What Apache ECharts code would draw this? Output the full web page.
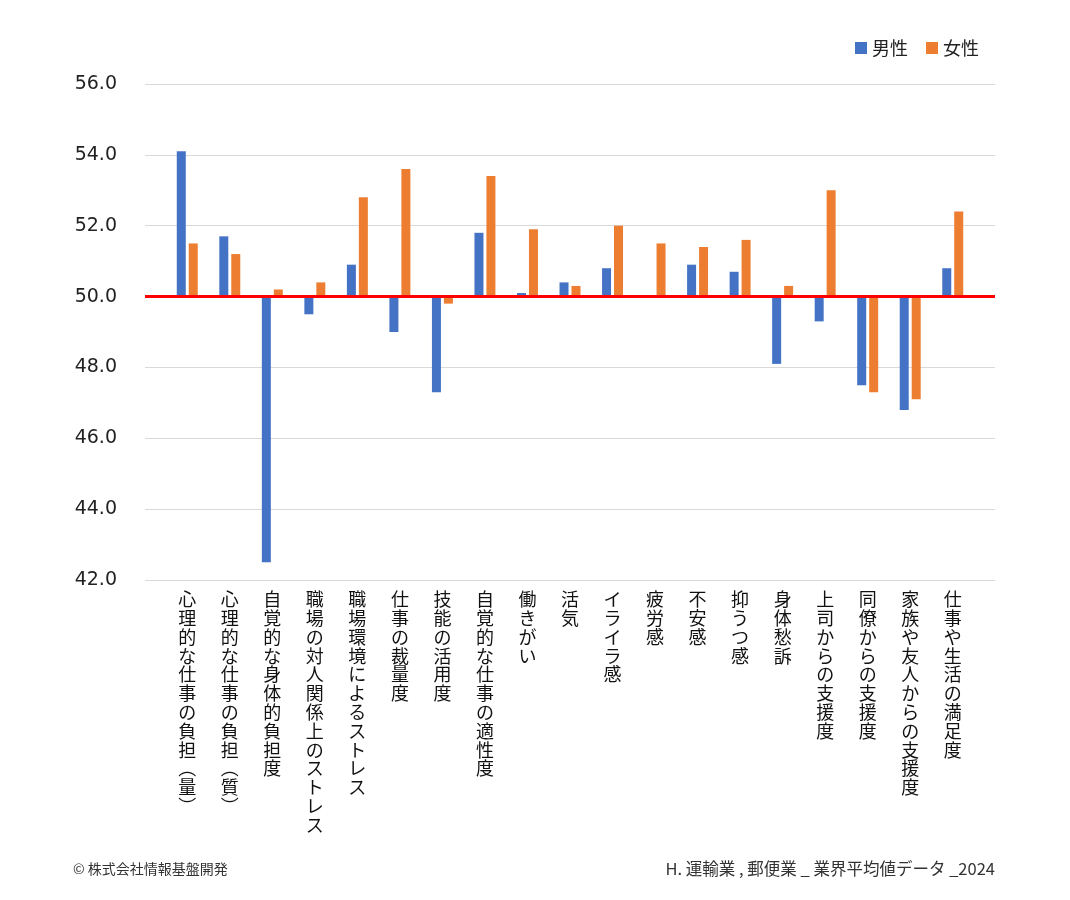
<!DOCTYPE html>
<html>
  <head>
    <meta charset="utf-8" />
    <title>業界平均値データ</title>
    <script src="https://cdn.jsdelivr.net/npm/echarts@6.0.0/dist/echarts.min.js"></script>
    <style>
      * {
        margin: 0;
        padding: 0;
        box-sizing: border-box;
      }
      body {
        background: #fff;
      }
    </style>
  </head>
  <body>
    <div id="main" style="width: 1070px; height: 900px"></div>
    <script type="text/javascript">
      var myChart = echarts.init(document.getElementById("main"));

      const categories = [
        "心理的な仕事の負担（量）",
        "心理的な仕事の負担（質）",
        "自覚的な身体的負担度",
        "職場の対人関係上のストレス",
        "職場環境によるストレス",
        "仕事の裁量度",
        "技能の活用度",
        "自覚的な仕事の適性度",
        "働きがい",
        "活気",
        "イライラ感",
        "疲労感",
        "不安感",
        "抑うつ感",
        "身体愁訴",
        "上司からの支援度",
        "同僚からの支援度",
        "家族や友人からの支援度",
        "仕事や生活の満足度",
      ];
      const maleValues = [
        54.1, 51.7, 42.5, 49.5, 50.9, 49.0, 47.3, 51.8, 50.1, 50.4, 50.8,
        50.0, 50.9, 50.7, 48.1, 49.3, 47.5, 46.8, 50.8,
      ];
      const femaleValues = [
        51.5, 51.2, 50.2, 50.4, 52.8, 53.6, 49.8, 53.4, 51.9, 50.3, 52.0,
        51.5, 51.4, 51.6, 50.3, 53.0, 47.3, 47.1, 52.4,
      ];
      const baseline = 50;
      const yMin = 42;
      const yMax = 56;
      const yStep = 2;

      // 縦書きラベル
      function verticalText(s) {
        return s
          .replace(/（/g, "︵")
          .replace(/）/g, "︶")
          .split("")
          .join("\n");
      }

      var jp = "'Noto Sans CJK JP', sans-serif";

      var option = {
        backgroundColor: "#ffffff",
        animation: false,
        legend: {
          data: ["男性", "女性"],
          right: 86,
          top: 34,
          icon: "rect",
          itemWidth: 12,
          itemHeight: 12,
          itemGap: 18,
          textStyle: { fontFamily: jp, fontSize: 18, color: "#222" },
        },
        grid: [
          // 目盛線用
          { left: 145, right: 75, top: 84, bottom: 320 },
          // 棒グラフ用
          { left: 166, right: 96, top: 84, bottom: 320 },
        ],
        xAxis: [
          {
            type: "value",
            gridIndex: 0,
            min: 0,
            max: 1,
            show: false,
          },
          {
            type: "category",
            gridIndex: 1,
            data: categories,
            axisLine: { show: false },
            axisTick: { show: false },
            axisLabel: {
              interval: 0,
              margin: 10,
              verticalAlign: "top",
              align: "center",
              fontFamily: jp,
              fontSize: 18,
              lineHeight: 18.8,
              color: "#111",
              formatter: verticalText,
            },
          },
        ],
        yAxis: [
          {
            type: "value",
            gridIndex: 0,
            min: yMin,
            max: yMax,
            interval: yStep,
            axisLine: { show: false },
            axisTick: { show: false },
            splitLine: { lineStyle: { color: "#d9d9d9", width: 1 } },
            axisLabel: {
              margin: 28,
              fontFamily: "'DejaVu Sans', sans-serif",
              fontSize: 19,
              color: "#222",
              formatter: (v) => v.toFixed(1),
            },
          },
          {
            type: "value",
            gridIndex: 1,
            min: yMin - baseline,
            max: yMax - baseline,
            interval: yStep,
            show: false,
          },
        ],
        series: [
          {
            name: "男性",
            type: "bar",
            xAxisIndex: 1,
            yAxisIndex: 1,
            barWidth: 9,
            barGap: "33%",
            itemStyle: { color: "#4472C4" },
            z: 2,
            data: maleValues.map((v) => +(v - baseline).toFixed(2)),
          },
          {
            name: "女性",
            type: "bar",
            xAxisIndex: 1,
            yAxisIndex: 1,
            barWidth: 9,
            barGap: "33%",
            itemStyle: { color: "#ED7D31" },
            z: 2,
            data: femaleValues.map((v) => +(v - baseline).toFixed(2)),
          },
          // 基準線 50.0
          {
            type: "scatter",
            xAxisIndex: 0,
            yAxisIndex: 0,
            data: [],
            z: 5,
            silent: true,
            markLine: {
              silent: true,
              symbol: "none",
              label: { show: false },
              lineStyle: { color: "#ff0000", width: 3, type: "solid" },
              data: [{ yAxis: baseline }],
            },
          },
        ],
        graphic: [
          {
            type: "text",
            left: 73,
            top: 862,
            style: {
              text: "© 株式会社情報基盤開発",
              font: "14px 'Noto Sans CJK JP'",
              fill: "#333",
            },
          },
          {
            type: "text",
            right: 75,
            top: 860,
            style: {
              text: "H. 運輸業 , 郵便業 _ 業界平均値データ _2024",
              font: "16.5px 'Noto Sans CJK JP'",
              fill: "#333",
            },
          },
        ],
      };

      myChart.setOption(option);
    </script>
  </body>
</html>
